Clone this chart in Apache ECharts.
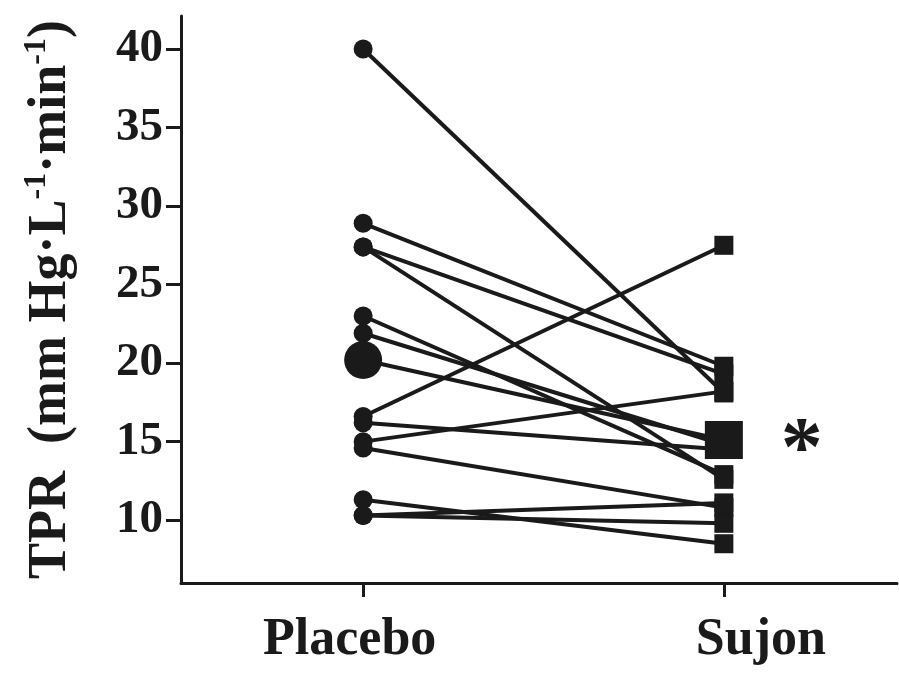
<!DOCTYPE html>
<html>
<head>
<meta charset="utf-8">
<script src="https://cdn.jsdelivr.net/npm/echarts@6/dist/echarts.min.js"></script>
<style>
  html, body { margin: 0; padding: 0; background: #fff; }
  #chart { width: 899px; height: 677px; }
</style>
</head>
<body>
<div id="chart"></div>
<script>
// one entry per subject: placebo value, sujon value
const placebo = [40.0, 28.9, 27.4, 27.4, 23.0, 21.9, 16.6, 16.2, 15.0, 14.6, 11.3, 10.3, 10.3];
const sujon   = [18.1, 19.8, 19.3, 12.6, 12.9, 14.8, 27.5, 14.5, 18.2, 10.8, 8.5, 11.1, 9.8];
const meanPlacebo = 20.2;
const meanSujon = 15.1;
const groups = ['Placebo', 'Sujon'];
const yTicks = [10, 15, 20, 25, 30, 35, 40];

const ink = '#1a1a1a';
const serif = '"Liberation Serif", "Times New Roman", serif';

const pairSeries = (p, s, big) => ({
  type: 'line',
  silent: true,
  data: [
    { value: [0, p], symbol: 'circle' },
    { value: [1, s], symbol: 'rect' },
  ],
  symbolSize: big ? 38 : 19,
  showAllSymbol: true,
  lineStyle: { color: ink, width: 4 },
  itemStyle: { color: ink, borderWidth: 0 },
  z: big ? 5 : 3,
  animation: false,
});

const series = placebo.map((p, i) => pairSeries(p, sujon[i], false));
const meanS = pairSeries(meanPlacebo, meanSujon, true);
// significance mark next to the Sujon mean
meanS.data[1].label = {
  show: true,
  position: 'right',
  distance: 38,
  offset: [0, 13],
  formatter: '*',
  fontFamily: serif,
  fontWeight: 'bold',
  fontSize: 84,
  color: ink,
};
series.push(meanS);

const chart = echarts.init(document.getElementById('chart'), null, { renderer: 'canvas' });
chart.setOption({
  backgroundColor: '#fff',
  grid: { left: 181, right: 2, top: 16, bottom: 94 },
  xAxis: {
    type: 'value',
    min: -0.505,
    max: 1.48,
    splitLine: { show: false },
    axisLine: { onZero: false, lineStyle: { color: ink, width: 3 } },
    axisTick: { customValues: [0, 1], length: 14, lineStyle: { color: ink, width: 3 } },
    axisLabel: {
      customValues: [0, 1],
      margin: 32,
      formatter: v => v === 0 ? '{p|' + groups[0] + '}' : '{s|' + groups[1] + '}',
      rich: {
        p: { fontFamily: serif, fontWeight: 'bold', fontSize: 52, color: ink, padding: [0, 27, 0, 0] },
        s: { fontFamily: serif, fontWeight: 'bold', fontSize: 52, color: ink, padding: [0, 0, 0, 74] },
      },
    },
  },
  yAxis: {
    type: 'value',
    min: 6,
    max: 42.1,
    splitLine: { show: false },
    axisLine: { onZero: false, lineStyle: { color: ink, width: 3 } },
    axisTick: { customValues: yTicks, length: 15, lineStyle: { color: ink, width: 3 } },
    axisLabel: {
      customValues: yTicks,
      margin: 18,
      fontFamily: serif,
      fontWeight: 'bold',
      fontSize: 47,
      color: ink,
    },
    name: '{t|TPR  (mm Hg·L}{u|-1}{t|·min}{u|-1}{t|)}',
    nameLocation: 'middle',
    nameRotate: 90,
    nameGap: 100,
    nameTextStyle: {
      rich: {
        t: { fontFamily: serif, fontWeight: 'bold', fontSize: 54, color: ink, lineHeight: 60 },
        u: { fontFamily: serif, fontWeight: 'bold', fontSize: 32, color: ink, verticalAlign: 'top', lineHeight: 30 },
      },
    },
  },
  series,
});
</script>
</body>
</html>
